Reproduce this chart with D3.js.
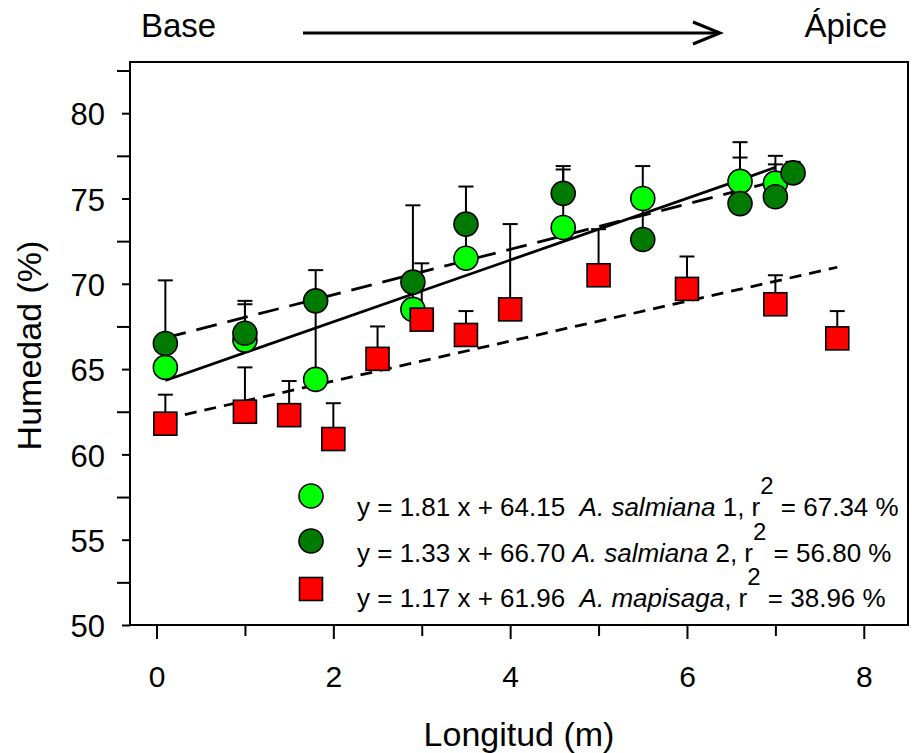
<!DOCTYPE html>
<html>
<head>
<meta charset="utf-8">
<script src="https://cdn.jsdelivr.net/npm/d3@7/dist/d3.min.js"></script>
<style>
  body { margin: 0; background: #fff; }
  text { font-family: "Liberation Sans", Arial, Helvetica, sans-serif; fill: #000; }
</style>
</head>
<body>
<svg id="chart" width="912" height="753"></svg>
<script>
// Moisture along the leaf, from base to apex, for three agave samples.
// Error bars are one-sided (upper) as in the original figure.

// A. salmiana 1 (light green circles)
const salm1X   = [0.1, 1.0, 1.8, 2.9, 3.5, 4.6, 5.5, 6.6, 7.0];
const salm1Y   = [65.1, 66.7, 64.4, 68.5, 71.5, 73.3, 75.0, 76.0, 75.9];
const salm1Err = [1.1, 2.1, 4.6, 1.3, 2.0, 3.4, 1.9, 2.3, 1.6];

// A. salmiana 2 (dark green circles)
const salm2X   = [0.1, 1.0, 1.8, 2.9, 3.5, 4.6, 5.5, 6.6, 7.0, 7.2];
const salm2Y   = [66.5, 67.1, 69.0, 70.1, 73.5, 75.3, 72.6, 74.7, 75.1, 76.5];
const salm2Err = [3.7, 1.9, 1.8, 4.5, 2.2, 1.6, 2.4, 2.7, 1.9, 0.65];

// A. mapisaga (red squares)
const mapiX   = [0.1, 1.0, 1.5, 2.0, 2.5, 3.0, 3.5, 4.0, 5.0, 6.0, 7.0, 7.7];
const mapiY   = [61.8, 62.5, 62.3, 60.9, 65.6, 67.9, 67.0, 68.5, 70.5, 69.7, 68.8, 66.8];
const mapiErr = [1.7, 2.6, 2.0, 2.1, 1.9, 3.3, 1.4, 5.0, 2.7, 1.9, 1.7, 1.6];

// Linear fits: slope, intercept, r², x range
const fitSlopes     = [1.81, 1.33, 1.17];
const fitIntercepts = [64.15, 66.70, 61.96];
const fitR2         = ["67.34", "56.80", "38.96"];
const fitStart      = [0.1, 0.1, 0.1];
const fitEnd        = [7.0, 7.2, 7.7];

// Axis ticks
const xMajorTicks = [0, 2, 4, 6, 8];
const xMinorTicks = [1, 3, 5, 7];
const yMajorTicks = [50, 55, 60, 65, 70, 75, 80];
const yMinorTicks = [52.5, 57.5, 62.5, 67.5, 72.5, 77.5, 82.5];

const svg = d3.select("#chart");
const plotLeft = 130, plotRight = 908, plotTop = 62, plotBottom = 625;

const x = d3.scaleLinear().domain([-0.3, 8.5]).range([plotLeft, plotRight]);
const y = d3.scaleLinear().domain([50, 83]).range([plotBottom, plotTop]);

const colLight = "#00ff00", colDark = "#007a00", colRed = "#ff0000";

// ---- axes ----
const xMajor = svg.append("g").attr("transform", `translate(0,${plotBottom})`)
  .call(d3.axisBottom(x).tickValues(xMajorTicks).tickSize(14).tickSizeOuter(0).tickPadding(6).tickFormat(d3.format("d")));
const xMinor = svg.append("g").attr("transform", `translate(0,${plotBottom})`)
  .call(d3.axisBottom(x).tickValues(xMinorTicks).tickSize(11).tickSizeOuter(0).tickFormat(""));
const yMajor = svg.append("g").attr("transform", `translate(${plotLeft},0)`)
  .call(d3.axisLeft(y).tickValues(yMajorTicks).tickSize(8).tickSizeOuter(0).tickPadding(17).tickFormat(d3.format("d")));
const yMinor = svg.append("g").attr("transform", `translate(${plotLeft},0)`)
  .call(d3.axisLeft(y).tickValues(yMinorTicks).tickSize(13).tickSizeOuter(0).tickFormat(""));

[xMajor, xMinor, yMajor, yMinor].forEach(g => {
  g.select(".domain").remove();
  g.selectAll(".tick line").attr("stroke", "#000").attr("stroke-width", 2);
});
xMajor.selectAll(".tick text").attr("font-size", 30).attr("y", 41).attr("dy", "0.71em")
  .attr("font-family", "Liberation Sans, Arial, sans-serif");
yMajor.selectAll(".tick text").attr("font-size", 31).attr("dy", "0.38em")
  .attr("font-family", "Liberation Sans, Arial, sans-serif");

// plot frame
svg.append("rect")
  .attr("x", plotLeft).attr("y", plotTop)
  .attr("width", plotRight - plotLeft).attr("height", plotBottom - plotTop)
  .attr("fill", "none").attr("stroke", "#000").attr("stroke-width", 2);

// ---- axis titles ----
svg.append("text")
  .attr("x", (plotLeft + plotRight) / 2).attr("y", 746)
  .attr("text-anchor", "middle").attr("font-size", 34)
  .text("Longitud (m)");

svg.append("text")
  .attr("transform", `translate(41,${(plotTop + plotBottom) / 2 + 2}) rotate(-90)`)
  .attr("text-anchor", "middle").attr("font-size", 34)
  .text("Humedad (%)");

// ---- base → apex annotation ----
svg.append("text").attr("x", 141).attr("y", 37).attr("font-size", 33).text("Base");
svg.append("text").attr("x", 887).attr("y", 37).attr("text-anchor", "end").attr("font-size", 33).text("Ápice");
svg.append("line").attr("x1", 303).attr("x2", 719).attr("y1", 33).attr("y2", 33)
  .attr("stroke", "#000").attr("stroke-width", 3);
svg.append("path").attr("d", "M693,22 L720,33 L693,44")
  .attr("fill", "none").attr("stroke", "#000").attr("stroke-width", 3);

// ---- regression lines ----
const dashes = [null, "21,11", "12,8"];
const fitG = svg.append("g");
fitSlopes.forEach((m, i) => {
  const b = fitIntercepts[i];
  fitG.append("line")
    .attr("x1", x(fitStart[i])).attr("y1", y(m * fitStart[i] + b))
    .attr("x2", x(fitEnd[i])).attr("y2", y(m * fitEnd[i] + b))
    .attr("stroke", "#000").attr("stroke-width", 2.8)
    .attr("stroke-dasharray", dashes[i]);
});

// ---- error bars (all series first, symbols drawn over them) ----
const series = [
  { xs: salm1X, ys: salm1Y, es: salm1Err, color: colLight, shape: "circle" },
  { xs: salm2X, ys: salm2Y, es: salm2Err, color: colDark,  shape: "circle" },
  { xs: mapiX,  ys: mapiY,  es: mapiErr,  color: colRed,   shape: "square" }
];
const capHalf = 7.5;
const errG = svg.append("g").attr("stroke", "#000").attr("stroke-width", 2);
series.forEach(s => {
  const pts = s.xs.map((xv, i) => ({ x: xv, y: s.ys[i], e: s.es[i] }));
  errG.selectAll(null).data(pts).join("line")
    .attr("x1", d => x(d.x)).attr("x2", d => x(d.x))
    .attr("y1", d => y(d.y)).attr("y2", d => y(d.y + d.e));
  errG.selectAll(null).data(pts).join("line")
    .attr("x1", d => x(d.x) - capHalf).attr("x2", d => x(d.x) + capHalf)
    .attr("y1", d => y(d.y + d.e)).attr("y2", d => y(d.y + d.e));
});

// ---- symbols ----
const R = 12, SQ = 23;
const symG = svg.append("g");
series.forEach(s => {
  const pts = s.xs.map((xv, i) => ({ x: xv, y: s.ys[i] }));
  if (s.shape === "circle") {
    symG.selectAll(null).data(pts).join("circle")
      .attr("cx", d => x(d.x)).attr("cy", d => y(d.y)).attr("r", R)
      .attr("fill", s.color).attr("stroke", "#000").attr("stroke-width", 1.6);
  } else {
    symG.selectAll(null).data(pts).join("rect")
      .attr("x", d => x(d.x) - SQ / 2).attr("y", d => y(d.y) - SQ / 2)
      .attr("width", SQ).attr("height", SQ)
      .attr("fill", s.color).attr("stroke", "#000").attr("stroke-width", 1.6);
  }
});

// ---- legend ----
const legendNames = ["A. salmiana", "A. salmiana", "A. mapisaga"];
const legendPre   = [" 1, r", " 2, r", ", r"];
const legendGap   = ["  ", " ", "  "];
const legG = svg.append("g");
const symX = 311, symYs = [496, 541, 589], textX = 357, baseYs = [516, 562, 607];
series.forEach((s, i) => {
  if (s.shape === "circle") {
    legG.append("circle").attr("cx", symX).attr("cy", symYs[i]).attr("r", R)
      .attr("fill", s.color).attr("stroke", "#000").attr("stroke-width", 1.6);
  } else {
    legG.append("rect").attr("x", symX - SQ / 2).attr("y", symYs[i] - SQ / 2)
      .attr("width", SQ).attr("height", SQ)
      .attr("fill", s.color).attr("stroke", "#000").attr("stroke-width", 1.6);
  }
  const t = legG.append("text").attr("x", textX).attr("y", baseYs[i])
    .attr("font-size", 26).style("white-space", "pre");
  t.append("tspan").text(`y = ${fitSlopes[i].toFixed(2)} x + ${fitIntercepts[i].toFixed(2)}${legendGap[i]}`);
  t.append("tspan").attr("font-style", "italic").text(legendNames[i]);
  t.append("tspan").text(legendPre[i]);
  t.append("tspan").attr("dy", -22).attr("font-size", 24).text("2");
  t.append("tspan").attr("dy", 22).text(` = ${fitR2[i]} %`);
});
</script>
</body>
</html>
